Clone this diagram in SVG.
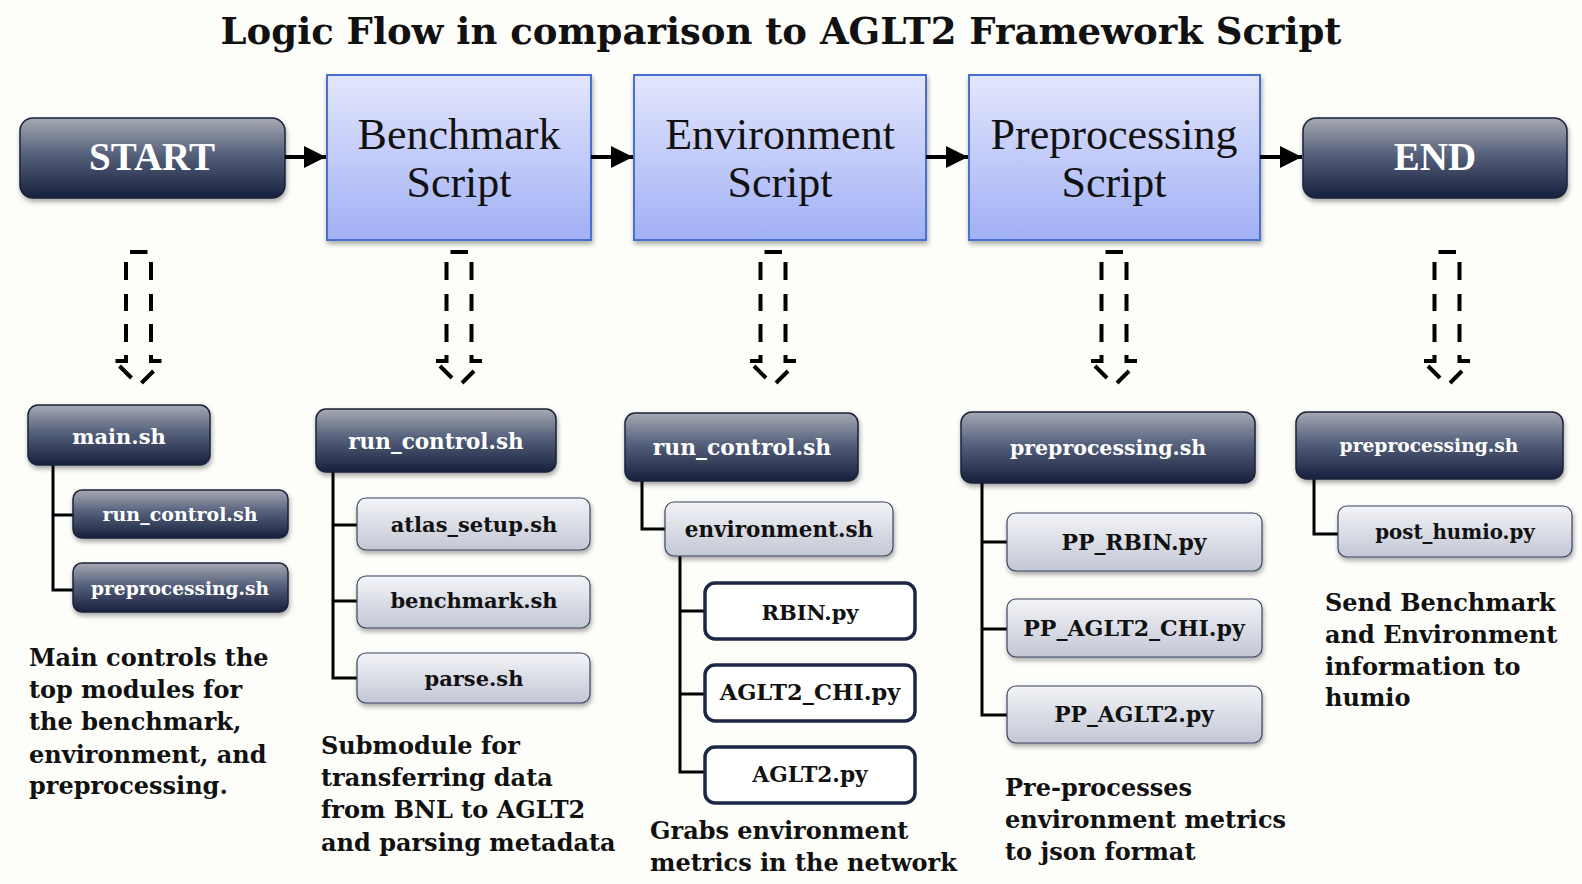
<svg xmlns="http://www.w3.org/2000/svg" width="1582" height="884" viewBox="0 0 1582 884">
  <defs>
    <linearGradient id="gDark" x1="0" y1="0" x2="0" y2="1">
      <stop offset="0" stop-color="#a6a9b3"/>
      <stop offset="0.45" stop-color="#56617c"/>
      <stop offset="1" stop-color="#17203d"/>
    </linearGradient>
    <linearGradient id="gLight" x1="0" y1="0" x2="0" y2="1">
      <stop offset="0" stop-color="#f3f4f8"/>
      <stop offset="1" stop-color="#c3c7d4"/>
    </linearGradient>
    <linearGradient id="gBlue" x1="0" y1="0" x2="0" y2="1">
      <stop offset="0" stop-color="#e3e6fc"/>
      <stop offset="1" stop-color="#a1b0f5"/>
    </linearGradient>
    <filter id="shadow" x="-10%" y="-10%" width="125%" height="135%">
      <feGaussianBlur in="SourceAlpha" stdDeviation="2.5"/>
      <feOffset dx="1" dy="3" result="b"/>
      <feComponentTransfer><feFuncA type="linear" slope="0.35"/></feComponentTransfer>
      <feMerge><feMergeNode/><feMergeNode in="SourceGraphic"/></feMerge>
    </filter>
    <marker id="head" viewBox="0 0 10 10" refX="10" refY="5" markerWidth="5.5" markerHeight="5.5" markerUnits="strokeWidth" orient="auto">
      <path d="M0,0 L10,5 L0,10 z" fill="#000"/>
    </marker>
    <!-- hollow dashed down-arrow, drawn around x=0, top at y=0 -->
    <g id="hollowArrow" fill="none" stroke="#000" stroke-width="4">
      <path d="M-8.5,1 H9"/>
      <path d="M-12.5,11 V29 M-12.5,43 V60 M-12.5,73 V91 M-12.5,104 V110 H-23"/>
      <path d="M12.5,11 V29 M12.5,43 V60 M12.5,73 V91 M12.5,104 V110 H23"/>
      <path d="M-19,115 L-7,127 M3,132 L15,120"/>
    </g>
  </defs>
  <style>
    .dark { fill: url(#gDark); stroke: #1a2238; stroke-width: 1.5; filter: url(#shadow); }
    .light { fill: url(#gLight); stroke: #3a4560; stroke-width: 1.2; filter: url(#shadow); }
    .white { fill: #ffffff; stroke: #1b2744; stroke-width: 3.5; }
    .blue { fill: url(#gBlue); stroke: #4a6fd0; stroke-width: 2; filter: url(#shadow); }
    .tree { fill: none; stroke: #000; stroke-width: 3; }
    .flow { fill: none; stroke: #000; stroke-width: 4; marker-end: url(#head); }
    .title { font-family: "DejaVu Serif", Georgia, serif; font-weight: bold; font-size: 37px; fill: #111; text-anchor: middle; }
    .big { font-family: "Liberation Serif", "Times New Roman", serif; font-size: 44px; fill: #111; text-anchor: middle; }
    .term { font-family: "Liberation Serif", "Times New Roman", serif; font-weight: bold; font-size: 39px; fill: #fff; text-anchor: middle; }
    .lw { font-family: "DejaVu Serif", Georgia, serif; font-weight: bold; font-size: 21px; fill: #fff; text-anchor: middle; }
    .lb { font-family: "DejaVu Serif", Georgia, serif; font-weight: bold; font-size: 21px; fill: #111; text-anchor: middle; }
    .desc { font-family: "DejaVu Serif", Georgia, serif; font-weight: bold; font-size: 24px; fill: #111; }
  </style>

  <rect width="1582" height="884" fill="#fdfdfa"/>

  <text class="title" x="781" y="44">Logic Flow in comparison to AGLT2 Framework Script</text>

  <!-- main flow -->
  <g id="start">
    <rect class="dark" x="20" y="118" width="265" height="80" rx="13"/>
    <text class="term" x="152" y="170">START</text>
  </g>
  <g id="benchmark-script">
    <rect class="blue" x="327" y="75" width="264" height="165"/>
    <text class="big" x="459" y="149">Benchmark</text>
    <text class="big" x="459" y="197">Script</text>
  </g>
  <g id="environment-script">
    <rect class="blue" x="634" y="75" width="292" height="165"/>
    <text class="big" x="780" y="149">Environment</text>
    <text class="big" x="780" y="197">Script</text>
  </g>
  <g id="preprocessing-script">
    <rect class="blue" x="969" y="75" width="291" height="165"/>
    <text class="big" x="1114" y="149">Preprocessing</text>
    <text class="big" x="1114" y="197">Script</text>
  </g>
  <g id="end">
    <rect class="dark" x="1303" y="118" width="264" height="80" rx="13"/>
    <text class="term" x="1435" y="170">END</text>
  </g>

  <g id="connectors">
    <path class="flow" d="M285,157 H326"/>
    <path class="flow" d="M591,157 H633"/>
    <path class="flow" d="M926,157 H968"/>
    <path class="flow" d="M1260,157 H1302"/>
    <use href="#hollowArrow" x="138.5" y="251"/>
    <use href="#hollowArrow" x="459" y="251"/>
    <use href="#hollowArrow" x="773" y="251"/>
    <use href="#hollowArrow" x="1114" y="251"/>
    <use href="#hollowArrow" x="1447" y="251"/>
    <!-- tree links -->
    <path class="tree" d="M53,465 V590 H73 M53,515 H73"/>
    <path class="tree" d="M333,472 V678 H357 M333,525 H357 M333,601 H357"/>
    <path class="tree" d="M642,481 V529 H665"/>
    <path class="tree" d="M680,556 V772 H705 M680,611 H705 M680,694 H705"/>
    <path class="tree" d="M982,483 V715 H1007 M982,542 H1007 M982,629 H1007"/>
    <path class="tree" d="M1314,479 V534 H1338"/>
  </g>

  <!-- column 1: main -->
  <g id="main-sh">
    <rect class="dark" x="28" y="405" width="182" height="60" rx="10"/>
    <text class="lw" x="119" y="444">main.sh</text>
  </g>
  <g id="main-run-control">
    <rect class="dark" x="73" y="490" width="215" height="48" rx="9"/>
    <text class="lw" x="180" y="521" style="font-size:19px">run_control.sh</text>
  </g>
  <g id="main-preprocessing">
    <rect class="dark" x="73" y="563" width="215" height="49" rx="9"/>
    <text class="lw" x="180" y="595" style="font-size:18.6px">preprocessing.sh</text>
  </g>
  <g id="desc-main">
    <text class="desc" x="29" y="666">Main controls the</text>
    <text class="desc" x="29" y="698">top modules for</text>
    <text class="desc" x="29" y="730">the benchmark,</text>
    <text class="desc" x="29" y="763">environment, and</text>
    <text class="desc" x="29" y="794">preprocessing.</text>
  </g>

  <!-- column 2: benchmark -->
  <g id="bm-run-control">
    <rect class="dark" x="316" y="409" width="240" height="63" rx="10"/>
    <text class="lw" x="436" y="449" style="font-size:21.5px">run_control.sh</text>
  </g>
  <g id="atlas-setup">
    <rect class="light" x="357" y="498" width="233" height="52" rx="9"/>
    <text class="lb" x="474" y="532">atlas_setup.sh</text>
  </g>
  <g id="benchmark-sh">
    <rect class="light" x="357" y="576" width="233" height="52" rx="9"/>
    <text class="lb" x="474" y="608">benchmark.sh</text>
  </g>
  <g id="parse-sh">
    <rect class="light" x="357" y="653" width="233" height="50" rx="9"/>
    <text class="lb" x="474" y="686">parse.sh</text>
  </g>
  <g id="desc-benchmark">
    <text class="desc" x="321" y="754">Submodule for</text>
    <text class="desc" x="321" y="786">transferring data</text>
    <text class="desc" x="321" y="818">from BNL to AGLT2</text>
    <text class="desc" x="321" y="851">and parsing metadata</text>
  </g>

  <!-- column 3: environment -->
  <g id="env-run-control">
    <rect class="dark" x="625" y="413" width="233" height="68" rx="10"/>
    <text class="lw" x="742" y="455" style="font-size:21.9px">run_control.sh</text>
  </g>
  <g id="environment-sh">
    <rect class="light" x="665" y="502" width="228" height="54" rx="9"/>
    <text class="lb" x="779" y="537" style="font-size:21.5px">environment.sh</text>
  </g>
  <g id="rbin-py">
    <rect class="white" x="705" y="583" width="210" height="56" rx="10"/>
    <text class="lb" x="810" y="620">RBIN.py</text>
  </g>
  <g id="aglt2-chi-py">
    <rect class="white" x="705" y="665" width="210" height="56" rx="10"/>
    <text class="lb" x="810" y="700" style="font-size:22.5px">AGLT2_CHI.py</text>
  </g>
  <g id="aglt2-py">
    <rect class="white" x="705" y="747" width="210" height="56" rx="10"/>
    <text class="lb" x="810" y="782" style="font-size:21.7px">AGLT2.py</text>
  </g>
  <g id="desc-environment">
    <text class="desc" x="650" y="839">Grabs environment</text>
    <text class="desc" x="650" y="871">metrics in the network</text>
  </g>

  <!-- column 4: preprocessing -->
  <g id="pp-preprocessing">
    <rect class="dark" x="961" y="412" width="294" height="71" rx="11"/>
    <text class="lw" x="1108" y="455" style="font-size:20.5px">preprocessing.sh</text>
  </g>
  <g id="pp-rbin-py">
    <rect class="light" x="1007" y="513" width="255" height="58" rx="9"/>
    <text class="lb" x="1134" y="550" style="font-size:21.9px">PP_RBIN.py</text>
  </g>
  <g id="pp-aglt2-chi-py">
    <rect class="light" x="1007" y="599" width="255" height="58" rx="9"/>
    <text class="lb" x="1134" y="636" style="font-size:22.1px">PP_AGLT2_CHI.py</text>
  </g>
  <g id="pp-aglt2-py">
    <rect class="light" x="1007" y="686" width="255" height="57" rx="9"/>
    <text class="lb" x="1134" y="722" style="font-size:21.8px">PP_AGLT2.py</text>
  </g>
  <g id="desc-preprocessing">
    <text class="desc" x="1005" y="796">Pre-processes</text>
    <text class="desc" x="1005" y="828">environment metrics</text>
    <text class="desc" x="1005" y="860">to json format</text>
  </g>

  <!-- column 5: end -->
  <g id="end-preprocessing">
    <rect class="dark" x="1296" y="412" width="267" height="67" rx="11"/>
    <text class="lw" x="1429" y="452" style="font-size:18.7px">preprocessing.sh</text>
  </g>
  <g id="post-humio-py">
    <rect class="light" x="1338" y="506" width="234" height="51" rx="9"/>
    <text class="lb" x="1455" y="539" style="font-size:19.8px">post_humio.py</text>
  </g>
  <g id="desc-end">
    <text class="desc" x="1325" y="611">Send Benchmark</text>
    <text class="desc" x="1325" y="643">and Environment</text>
    <text class="desc" x="1325" y="675">information to</text>
    <text class="desc" x="1325" y="706">humio</text>
  </g>
</svg>
